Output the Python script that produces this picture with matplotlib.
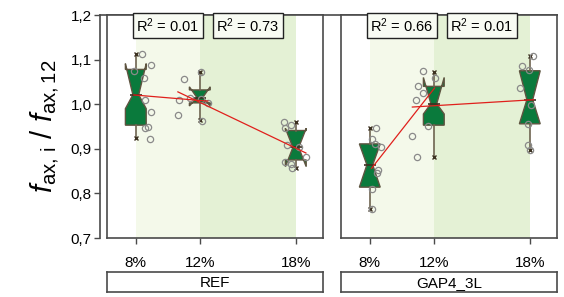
import numpy as np
import matplotlib
matplotlib.use("Agg")
import matplotlib.pyplot as plt

plt.rcParams['font.family'] = ['Liberation Sans', 'DejaVu Sans']
plt.rcParams['mathtext.fontset'] = 'custom'
plt.rcParams['mathtext.rm'] = 'Liberation Sans'
plt.rcParams['mathtext.it'] = 'Liberation Sans:italic'
plt.rcParams['mathtext.bf'] = 'Liberation Sans:bold'

# ---------------- data ----------------
groups = ["REF", "GAP4_3L"]
levels = [8, 12, 18]
level_labels = ["8%", "12%", "18%"]
ytick_vals = [0.7, 0.8, 0.9, 1.0, 1.1, 1.2]
ytick_labels = ["0,7", "0,8", "0,9", "1,0", "1,1", "1,2"]
r2_labels = [["R$^2$ = 0.01", "R$^2$ = 0.73"], ["R$^2$ = 0.66", "R$^2$ = 0.01"]]

# box statistics per group (order: 8%, 12%, 18%)
ref_whislo = [0.924, 0.964, 0.856]
ref_q1     = [0.953, 1.003, 0.875]
ref_cilo   = [0.990, 0.996, 0.860]
ref_med    = [1.021, 1.015, 0.903]
ref_cihi   = [1.091, 1.039, 0.946]
ref_q3     = [1.078, 1.032, 0.941]
ref_whishi = [1.113, 1.072, 0.961]

gap_whislo = [0.764, 0.882, 0.897]
gap_q1     = [0.814, 0.953, 0.956]
gap_cilo   = [0.814, 0.978, 0.956]
gap_med    = [0.864, 1.001, 1.010]
gap_cihi   = [0.911, 1.060, 1.075]
gap_q3     = [0.911, 1.040, 1.075]
gap_whishi = [0.946, 1.072, 1.107]

# individual samples (jittered x position in %, value)
ref8_x  = [8.38, 8.96, 7.88, 8.54, 8.58, 8.96, 8.75, 8.58, 8.89]
ref8_y  = [1.112, 1.088, 1.075, 1.058, 1.009, 0.983, 0.950, 0.946, 0.923]
ref12_x = [11.02, 12.06, 10.63, 10.69, 11.39, 12.50, 12.13, 12.06]
ref12_y = [1.056, 1.072, 0.975, 1.009, 1.013, 1.003, 0.962, 1.011]
ref18_x = [17.27, 17.73, 17.31, 17.48, 18.19, 18.63, 17.31, 17.69, 17.79]
ref18_y = [0.961, 0.953, 0.946, 0.909, 0.905, 0.882, 0.871, 0.867, 0.856]

gap8_x  = [8.36, 8.15, 8.32, 8.68, 8.53, 8.42, 8.15, 8.11]
gap8_y  = [0.946, 0.921, 0.911, 0.905, 0.852, 0.845, 0.809, 0.764]
gap12_x = [11.31, 12.05, 11.00, 11.32, 10.89, 11.61, 10.66, 10.96]
gap12_y = [1.075, 1.059, 1.041, 1.024, 1.009, 0.951, 0.929, 0.882]
gap18_x = [18.23, 17.54, 17.96, 17.40, 18.06, 17.86, 17.89, 18.04]
gap18_y = [1.107, 1.085, 1.076, 1.036, 0.998, 0.956, 0.908, 0.897]

# ---------------- style ----------------
W, H = 564, 297
fig = plt.figure(figsize=(W / 100, H / 100), dpi=100)

def fx(px):
    return px / W

def fy(py):
    return 1 - py / H

top_px, bot_px = 15, 238
panels_px = [(107, 323), (341, 557)]
XLIM = (6.2, 19.7)
YLIM = (0.7, 1.2)
BOXW = 1.3

BOX_FACE = '#0a7a3c'
BOX_EDGE = '#5e5440'
WHISK = '#6e6450'
SPINE = '#4a4a4a'
LIGHT = '#f4f9ea'
DARK = '#e4f1d5'

# y axis carrier
ax_y = fig.add_axes([fx(100), fy(bot_px), fx(557 - 100), fy(top_px) - fy(bot_px)])
ax_y.set_xlim(0, 1)
ax_y.set_ylim(*YLIM)
ax_y.patch.set_visible(False)
for s in ['right', 'bottom']:
    ax_y.spines[s].set_visible(False)
for s in ['left', 'top']:
    ax_y.spines[s].set_color(SPINE)
    ax_y.spines[s].set_linewidth(1.2)
ax_y.set_xticks([])
ax_y.set_yticks(ytick_vals)
ax_y.set_yticklabels(ytick_labels, fontsize=11)
ax_y.tick_params(axis='y', direction='out', length=4, width=1, color=SPINE, pad=2)
ax_y.set_ylabel(r'$f_{\mathrm{ax,\,i}}\ /\ f_{\mathrm{ax,12}}$', fontsize=21, labelpad=7)

all_stats = [
    (ref_whislo, ref_q1, ref_cilo, ref_med, ref_cihi, ref_q3, ref_whishi),
    (gap_whislo, gap_q1, gap_cilo, gap_med, gap_cihi, gap_q3, gap_whishi),
]
all_pts = [
    [(ref8_x, ref8_y), (ref12_x, ref12_y), (ref18_x, ref18_y)],
    [(gap8_x, gap8_y), (gap12_x, gap12_y), (gap18_x, gap18_y)],
]

for gi, (x0, x1) in enumerate(panels_px):
    ax = fig.add_axes([fx(x0), fy(bot_px), fx(x1 - x0), fy(top_px) - fy(bot_px)])
    ax.set_xlim(*XLIM)
    ax.set_ylim(*YLIM)
    for s in ax.spines.values():
        s.set_color(SPINE)
        s.set_linewidth(1.2)
    ax.axvspan(levels[0], levels[1], color=LIGHT, zorder=0, lw=0)
    ax.axvspan(levels[1], levels[2], color=DARK, zorder=0, lw=0)
    ax.set_yticks([])
    ax.set_xticks(levels)
    ax.set_xticklabels(level_labels, fontsize=11)
    ax.tick_params(axis='x', direction='out', length=4, width=1, color=SPINE, pad=9)

    wl, q1, cl, md, ch, q3, wh = all_stats[gi]
    stats = []
    for i in range(3):
        stats.append(dict(med=md[i], q1=q1[i], q3=q3[i], whislo=wl[i], whishi=wh[i],
                          cilo=cl[i], cihi=ch[i], fliers=[]))
    res = ax.bxp(stats, positions=levels, widths=BOXW, shownotches=True, patch_artist=True,
                 showcaps=False, showfliers=False, manage_ticks=False,
                 boxprops=dict(facecolor=BOX_FACE, edgecolor=BOX_EDGE, linewidth=1.0),
                 whiskerprops=dict(color=WHISK, linewidth=1.2),
                 medianprops=dict(color='#3b3020', linewidth=1.2), zorder=3)
    # deeper notch waist (as in the original software)
    for pos, box, medl in zip(levels, res['boxes'], res['medians']):
        v = box.get_path().vertices
        v[3, 0] = pos + BOXW * 0.14
        v[8, 0] = pos - BOXW * 0.14
        medl.set_xdata([pos - BOXW * 0.3, pos + BOXW * 0.3])
    ax.plot(levels, wl, ls='none', marker='x', ms=3, mew=1, color='#3b3020', zorder=4)
    ax.plot(levels, wh, ls='none', marker='x', ms=3, mew=1, color='#3b3020', zorder=4)

    pts = all_pts[gi]
    for (px_, py_) in pts:
        ax.plot(px_, py_, ls='none', marker='o', ms=4.5, mfc='none', mec='#8a8a8a',
                mew=0.9, zorder=5)

    # regression lines between adjacent levels
    for k in range(2):
        xs = np.array(pts[k][0] + pts[k + 1][0])
        ys = np.array(pts[k][1] + pts[k + 1][1])
        b, a = np.polyfit(xs, ys, 1)
        xx = np.array([xs.min(), xs.max()])
        ax.plot(xx, a + b * xx, color='#e0201c', lw=0.9, zorder=6)
        xc = (levels[k] + levels[k + 1]) / 2 if k == 0 else 15
        ax.text(xc, 1.177, r2_labels[gi][k], ha='center', va='center', fontsize=10.5,
                bbox=dict(boxstyle='square,pad=0.22', fc='#f8fbf3', ec='#222222', lw=1.0),
                zorder=7)

    # group label box
    lab = fig.add_axes([fx(x0), fy(292), fx(x1 - x0), fy(272) - fy(292)])
    lab.set_xticks([])
    lab.set_yticks([])
    for s in lab.spines.values():
        s.set_color(SPINE)
        s.set_linewidth(1.2)
    lab.text(0.5, 0.45, groups[gi], ha='center', va='center', fontsize=11,
             transform=lab.transAxes)

fig.savefig('out.png', dpi=100)
